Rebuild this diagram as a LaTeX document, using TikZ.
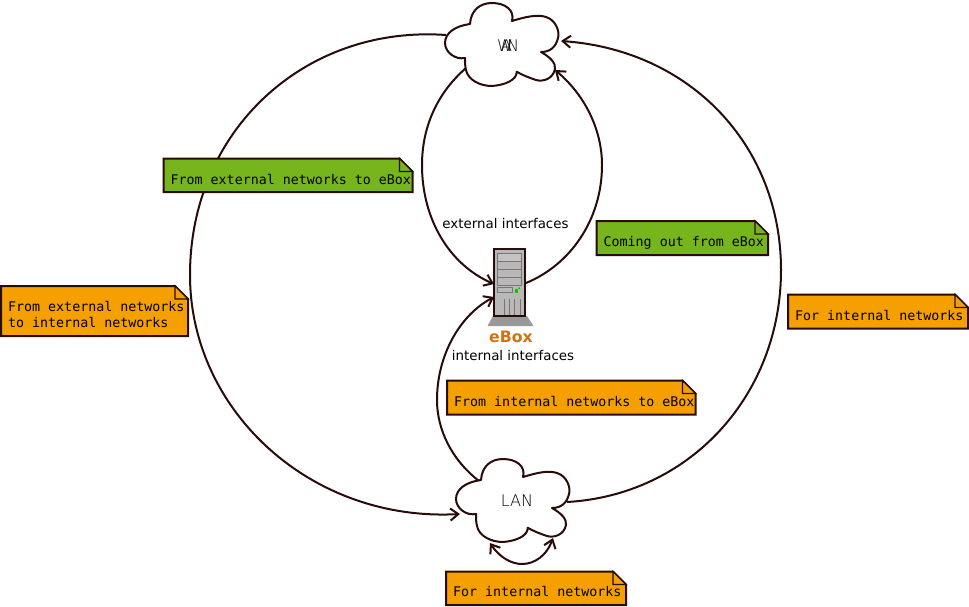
\documentclass[tikz,border=0pt]{standalone}
\usepackage{fontspec}
\setmainfont{DejaVu Sans}
\setmonofont{DejaVu Sans Mono}
\newfontfamily\thinfont{DejaVu Sans ExtraLight}
\usetikzlibrary{arrows.meta}
\definecolor{ink}{HTML}{280B0B}
\definecolor{notegreen}{HTML}{76B51B}
\definecolor{noteorange}{HTML}{F5A000}
\definecolor{eboxorange}{HTML}{D4700F}
\definecolor{towergray}{HTML}{B8B8B8}
\definecolor{basegray}{HTML}{999999}
\definecolor{slotgray}{HTML}{7C7474}
\tikzset{
  link/.style={draw=ink,line width=2pt,-{Straight Barb[length=8pt,width=12pt,line width=2pt]}},
  linkboth/.style={draw=ink,line width=2pt,{Straight Barb[length=8pt,width=12pt,line width=2pt]}-{Straight Barb[length=8pt,width=12pt,line width=2pt]}},
  outline/.style={draw=ink,line width=2pt},
  notetext/.style={font=\ttfamily\fontsize{13.3}{16}\selectfont,anchor=west,inner sep=0pt,align=left,text=black},
  labeltext/.style={font=\fontsize{13.4}{15}\selectfont,inner sep=0pt,text=black},
  cloudtext/.style={font=\thinfont\fontsize{16}{18}\selectfont,inner sep=0pt,text=black},
  cloudshape/.pic={
    \path[outline,fill=white,line join=round]
      (470,24) .. controls (471,10) and (480,3) .. (492,3)
      .. controls (505,3) and (515,10) .. (512,21)
      .. controls (525,17) and (537,14) .. (546,17)
      .. controls (556,20) and (560,32) .. (558,38)
      .. controls (556,47) and (550,52) .. (541,52)
      .. controls (550,57) and (556,63) .. (555,69)
      .. controls (553,79) and (543,82) .. (536,80)
      .. controls (530,78) and (522,75) .. (516.7,71.7)
      .. controls (517,80) and (505,85) .. (492,86)
      .. controls (480,86) and (468,80) .. (466,70)
      .. controls (465,66) and (465,62) .. (465,58)
      .. controls (455,60) and (445,52) .. (445,43)
      .. controls (445,33) and (455,26) .. (470,24) -- cycle;
  }
}
\newcommand{\notebox}[8]{%
  \path[outline,fill=#6,line join=miter] (#2,#3) -- ({#4-13},#3) -- (#4,{#3+13}) -- (#4,#5) -- (#2,#5) -- cycle;
  \path[outline,line width=1.2pt,fill=#6] ({#4-13},#3) -- ({#4-13},{#3+13}) -- (#4,{#3+13}) -- cycle;
  \node[notetext] (#1) at ({#2+7},{(#3+#5)/2+#8}) {#7};
}
\begin{document}
\begin{tikzpicture}[x=1pt,y=-1pt]
\useasboundingbox (0,0) rectangle (969,606);
% connector ends
\coordinate (wanLeft) at (446,35);
\coordinate (wanRight) at (561,41);
\coordinate (wanBelowL) at (466,68);
\coordinate (wanBelowR) at (555,70);
\coordinate (lanLeft) at (460,514);
\coordinate (lanRight) at (567,502);
\coordinate (lanTop) at (479,481);
\coordinate (lanBelowL) at (490,543);
\coordinate (lanBelowR) at (553,538);
\coordinate (srvInA) at (494,284);
\coordinate (srvOut) at (526,283);
\coordinate (srvInB) at (494,297);
% big arcs
\draw[link] (wanLeft) .. controls (305,25) and (190,130) .. (190,275) .. controls (190,410) and (310,522) .. (lanLeft);
\draw[link] (lanRight) .. controls (690,495) and (781,395) .. (781,270) .. controls (781,145) and (690,50) .. (wanRight);
\draw[link] (wanBelowL) .. controls (435,95) and (422,130) .. (422,165) .. controls (422,220) and (450,265) .. (srvInA);
\draw[link] (srvOut) .. controls (570,265) and (602,220) .. (602,165) .. controls (602,130) and (585,95) .. (wanBelowR);
\draw[link] (lanTop) .. controls (452,460) and (437,430) .. (437,400) .. controls (437,355) and (460,315) .. (srvInB);
\draw[linkboth] (lanBelowL) .. controls (500,558) and (512,564) .. (522,564) .. controls (535,564) and (547,555) .. (lanBelowR);
% clouds
\pic {cloudshape};
\pic[shift={(11,456)}] {cloudshape};
\node[cloudtext] (wan) at (508,46) {W\kern-11.8pt A\kern-5pt N};
\node[cloudtext] (lan) at (517,501) {LAN};
% server
\fill[basegray] (493,316) -- (527,316) -- (533.5,326) -- (487.5,326) -- cycle;
\draw[draw=ink,line width=1.4pt,fill=towergray] (494,249) rectangle (525,316);
\draw[slotgray,line width=.8pt,fill=towergray!85!white] (497.5,253) rectangle (521.5,261.5);
\draw[slotgray,line width=.8pt] (497.5,261.5) rectangle (521.5,269.5);
\draw[slotgray,line width=.8pt] (497.5,269.5) rectangle (521.5,277.5);
\draw[slotgray,line width=.8pt] (497.5,277.5) rectangle (521.5,285.5);
\draw[slotgray,line width=.6pt] (497.5,287.5) rectangle (512.5,292.5);
\fill[green!80!black] (514.5,289) rectangle (517.5,292.5);
\fill[green!80!black] (519.2,288.2) circle (1.1);
\fill[yellow!80!black] (519.2,291.2) circle (1);
\foreach \vx in {504,509.5,514.5,520}{\draw[slotgray,line width=.6pt] (\vx,299) -- (\vx,315);}
% labels
\node[font=\bfseries\fontsize{15.7}{17}\selectfont,inner sep=0pt,text=eboxorange] (ebox) at (511,337) {eBox};
\node[labeltext] (ifext) at (505.5,223) {external interfaces};
\node[labeltext] (ifint) at (513,355) {internal interfaces};
% notes
\notebox{n1}{163.5}{158.5}{412.5}{192}{notegreen}{From external networks to eBox}{4}
\notebox{n2}{596.5}{221}{768}{255}{notegreen}{Coming out from eBox}{5}
\notebox{n3}{1}{286}{188}{336}{noteorange}{From external networks\\to internal networks}{3}
\notebox{n4}{788}{294.5}{968}{328.5}{noteorange}{For internal networks}{4}
\notebox{n5}{447}{380.5}{695.5}{414.5}{noteorange}{From internal networks to eBox}{4}
\notebox{n6}{446}{571.5}{626}{605}{noteorange}{For internal networks}{3}
\end{tikzpicture}
\end{document}
